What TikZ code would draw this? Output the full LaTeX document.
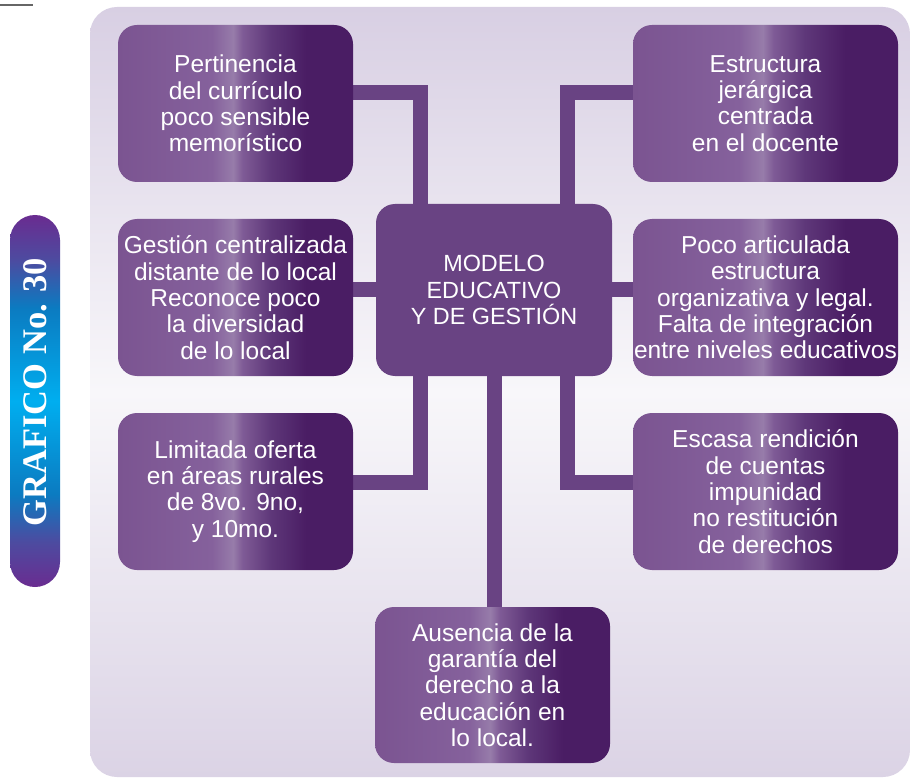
\documentclass[tikz,border=0pt]{standalone}
\usepackage{fontspec}
\setmainfont{Liberation Sans}
\newfontfamily\tabfont{Liberation Serif}
\definecolor{bxA}{HTML}{7B5491}
\definecolor{bxB}{HTML}{85619C}
\definecolor{bxC}{HTML}{977CAA}
\definecolor{bxD}{HTML}{7F5B96}
\definecolor{bxE}{HTML}{5E3779}
\definecolor{bxF}{HTML}{4A1D64}
\definecolor{conn}{HTML}{694383}
\definecolor{tabP}{HTML}{6A2C90}
\definecolor{tabQ}{HTML}{4D4BA0}
\definecolor{tabB}{HTML}{0B7BC1}
\definecolor{tabC}{HTML}{00AEEF}
\definecolor{panT}{HTML}{D8CFE3}
\definecolor{panM}{HTML}{F8F7FA}
\definecolor{panB}{HTML}{DBD3E5}
\pgfdeclarehorizontalshading{boxshade}{100bp}{color(0bp)=(bxA); color(25bp)=(bxA); color(45bp)=(bxB); color(49.5bp)=(bxC); color(51.5bp)=(bxD); color(57.5bp)=(bxE); color(65bp)=(bxF); color(75bp)=(bxF); color(100bp)=(bxF)}
\pgfdeclareverticalshading{tabshade}{100bp}{color(0bp)=(tabP); color(25bp)=(tabP); color(31bp)=(tabQ); color(37.5bp)=(tabB); color(50bp)=(tabC); color(62.5bp)=(tabB); color(69bp)=(tabQ); color(75bp)=(tabP); color(100bp)=(tabP)}
\pgfdeclareverticalshading{panshade}{100bp}{color(0bp)=(panB); color(25bp)=(panB); color(50bp)=(panM); color(75bp)=(panT); color(100bp)=(panT)}
\pgfdeclarelayer{bg}
\pgfdeclarelayer{conns}
\pgfsetlayers{bg,conns,main}
\tikzset{
  sidebox/.style={rectangle, rounded corners=19pt, shading=boxshade, text=white,
    align=center, inner sep=0pt, minimum height=157pt,
    font=\fontsize{24.5}{26.3}\selectfont},
  leftbox/.style={sidebox, minimum width=235pt},
  rightbox/.style={sidebox, minimum width=265pt},
  centerbox/.style={rectangle, rounded corners=19pt, fill=conn, text=white,
    align=center, inner sep=0pt, minimum width=236pt, minimum height=172pt,
    font=\fontsize{23.4}{26.8}\selectfont},
  link/.style={draw=conn, line width=15pt, line join=miter}
}
\begin{document}
\begin{tikzpicture}[x=1pt,y=-1pt]
\useasboundingbox (0,0) rectangle (911,778);
\begin{pgfonlayer}{bg}
  \shade[shading=panshade, rounded corners=27pt] (90,7) rectangle (910,777);
  \draw[color=black!60, line width=1.5pt] (0,5) -- (33,5);
  \shade[shading=tabshade, rounded corners=25pt] (10,215) rectangle (60,587);
  \node[rotate=90, text=white, inner sep=0pt, font=\tabfont\bfseries\fontsize{34.5}{40}\selectfont]
    (tab) at (35.5,392) {GRAFICO No. 30};
\end{pgfonlayer}

\node[leftbox] (pert) at (235.5,103.5) {Pertinencia\\del currículo\\poco sensible\\memorístico};
\node[leftbox] (gest) at (235.5,297.5) {Gestión centralizada\\distante de lo local\\Reconoce poco\\la diversidad\\de lo local};
\node[leftbox] (limi) at (235.5,491.5) {Limitada oferta\\en áreas rurales\\de 8vo. 9no,\\y 10mo.};
\node[rightbox] (estr) at (765.5,103.5) {Estructura\\jerárgica\\centrada\\en el docente};
\node[rightbox] (poco) at (765.5,297.5) {Poco articulada\\estructura\\organizativa y legal.\\Falta de integración\\entre niveles educativos};
\node[rightbox] (esca) at (765.5,491.5) {Escasa rendición\\de cuentas\\impunidad\\no restitución\\de derechos};
\node[centerbox] (model) at (494,290) {MODELO\\EDUCATIVO\\Y DE GESTIÓN};
\node[leftbox, minimum height=156pt] (ause) at (492.5,685) {Ausencia de la\\garantía del\\derecho a la\\educación en\\lo local.};

\begin{pgfonlayer}{conns}
  \draw[link] ([yshift=10.5pt]pert.east) -| ([xshift=-74pt]model.north);
  \draw[link] ([yshift=10.5pt]estr.west) -| ([xshift=73pt]model.north);
  \draw[link] (model.west) -- (model.west -| gest.east);
  \draw[link] (model.east) -- (model.east -| poco.west);
  \draw[link] ([yshift=9.5pt]limi.east) -| ([xshift=-74pt]model.south);
  \draw[link] ([yshift=9pt]esca.west) -| ([xshift=73pt]model.south);
  \draw[link] (model.south) -- (model.south |- ause.north);
\end{pgfonlayer}
\end{tikzpicture}
\end{document}
